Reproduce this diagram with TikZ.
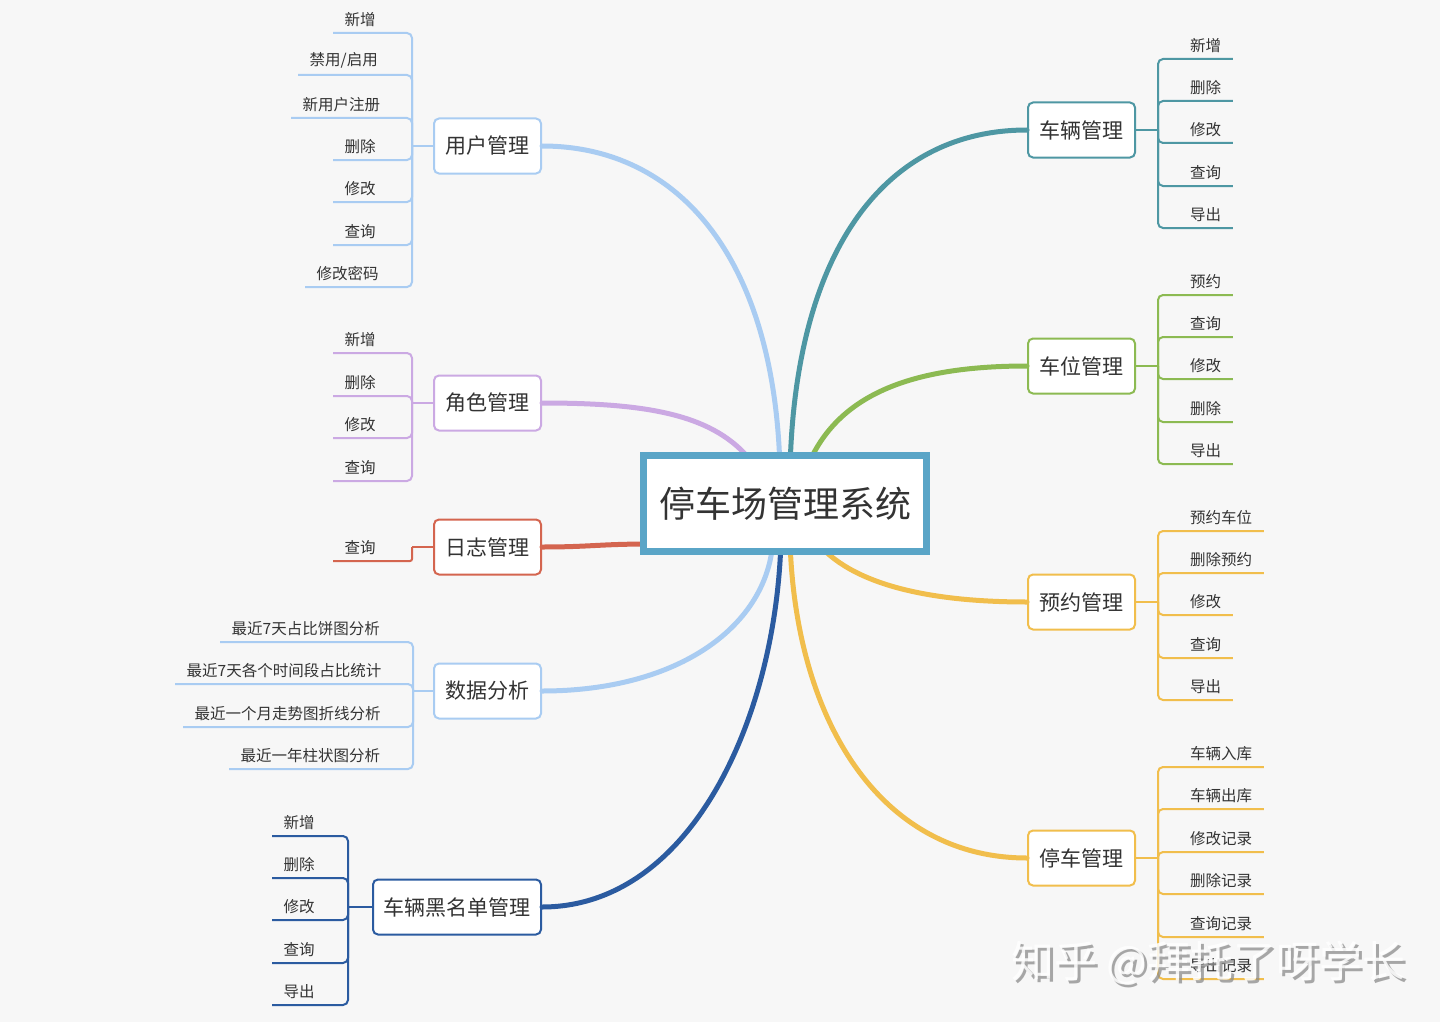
\documentclass[tikz,border=0pt]{standalone}
\usepackage{fontspec}
\newfontfamily\cjk{Noto Sans CJK SC}
\definecolor{bg}{HTML}{F7F7F7}
\definecolor{txt}{HTML}{333333}
\definecolor{cRoot}{HTML}{5AA5C7}
\definecolor{cLB}{HTML}{A9CCF2}
\definecolor{cPu}{HTML}{CBA9E3}
\definecolor{cRe}{HTML}{D4654F}
\definecolor{cDB}{HTML}{2B5BA0}
\definecolor{cTe}{HTML}{4E97A3}
\definecolor{cGr}{HTML}{8CBA52}
\definecolor{cYe}{HTML}{F1BE4C}
\tikzset{
  rootbox/.style={draw=cRoot, line width=7pt, fill=white, minimum width=283pt, minimum height=96pt, inner sep=0pt, font=\cjk\fontsize{36}{40}\selectfont, text=txt},
  topic/.style={draw=#1, line width=2pt, rounded corners=5pt, fill=white, minimum width=107pt, minimum height=55pt, inner sep=0pt, font=\cjk\fontsize{21}{24}\selectfont, text=txt},
  leaf/.style={inner xsep=11.5pt, inner ysep=6.25pt, font=\cjk\fontsize{15.5}{18}\selectfont, text=txt},
  lleaf/.style={leaf, anchor=south west},
  rleaf/.style={leaf, anchor=south west},
  branch/.style={draw=#1, line width=5pt, line cap=round},
  twig/.style={draw=#1, line width=2pt, rounded corners=5pt},
  wmark/.style={anchor=west, inner sep=0pt, font=\cjk\fontsize{43}{48}\selectfont},
}
\begin{document}
\begin{tikzpicture}[x=1pt,y=-1pt]
\fill[bg] (0,0) rectangle (1440,1022);
\useasboundingbox (0,0) rectangle (1440,1022);

% ---------- nodes ----------
\node[topic=cLB] (u) at (487.5,146) {用户管理};
\node[topic=cPu] (r) at (487.5,403) {角色管理};
\node[topic=cRe] (l) at (487.5,547) {日志管理};
\node[topic=cLB] (d) at (487.5,691) {数据分析};
\node[topic=cDB, minimum width=168pt] (b) at (457,907) {车辆黑名单管理};
\node[topic=cTe] (v) at (1081.5,130) {车辆管理};
\node[topic=cGr] (p) at (1081.5,366) {车位管理};
\node[topic=cYe] (y) at (1081.5,602) {预约管理};
\node[topic=cYe] (k) at (1081.5,858) {停车管理};

% ---------- main branches ----------
\coordinate (ru) at (780,470);
\coordinate (rr) at (752,462);
\coordinate (rl) at (650,544);
\coordinate (rd) at (773,540);
\coordinate (rb) at (781,540);
\coordinate (rv) at (790,470);
\coordinate (rp) at (806,470);
\coordinate (ry) at (815,540);
\coordinate (rk) at (790,540);
\draw[branch=cLB] (u.east) .. controls (680,146) and (775,260) .. (ru);
\draw[branch=cPu] (r.east) .. controls (650,403) and (715,415) .. (rr);
\draw[branch=cRe] (l.east) .. controls (590,547) and (600,544) .. (rl);
\draw[branch=cLB] (d.east) .. controls (680,691) and (768,625) .. (rd);
\draw[branch=cDB] (b.east) .. controls (690,907) and (776,720) .. (rb);
\draw[branch=cTe] (v.west) .. controls (885,130) and (795,250) .. (rv);
\draw[branch=cGr] (p.west) .. controls (910,366) and (835,395) .. (rp);
\draw[branch=cYe] (y.west) .. controls (930,602) and (850,585) .. (ry);
\draw[branch=cYe] (k.west) .. controls (880,858) and (795,720) .. (rk);

\node[rootbox] (root) at (785,503.5) {停车场管理系统};

% ---------- 用户管理 ----------
\coordinate (ub) at (412,146);
\draw[twig=cLB] (u.west) -- (ub);
\node[lleaf] (u1) at (333,33) {新增};
\node[lleaf] (u2) at (298,75) {禁用/启用};
\node[lleaf] (u3) at (291,118) {新用户注册};
\node[lleaf] (u4) at (333,160) {删除};
\node[lleaf] (u5) at (333,202) {修改};
\node[lleaf] (u6) at (333,245) {查询};
\node[lleaf] (u7) at (305,287) {修改密码};
\foreach \c in {u1,u2,u3,u4,u5,u6,u7} \draw[twig=cLB] (ub) |- (\c.south west);

% ---------- 角色管理 ----------
\coordinate (rbk) at (412,403);
\draw[twig=cPu] (r.west) -- (rbk);
\node[lleaf] (r1) at (333,353) {新增};
\node[lleaf] (r2) at (333,396) {删除};
\node[lleaf] (r3) at (333,438) {修改};
\node[lleaf] (r4) at (333,481) {查询};
\foreach \c in {r1,r2,r3,r4} \draw[twig=cPu] (rbk) |- (\c.south west);

% ---------- 日志管理 ----------
\coordinate (lbk) at (412,547);
\draw[twig=cRe] (l.west) -- (lbk);
\node[lleaf] (l1) at (333,561) {查询};
\draw[twig=cRe, rounded corners=2pt] (lbk) |- (l1.south west);

% ---------- 数据分析 ----------
\coordinate (dbk) at (413,691);
\draw[twig=cLB] (d.west) -- (dbk);
\node[lleaf] (d1) at (220,642) {最近7天占比饼图分析};
\node[lleaf] (d2) at (175,684) {最近7天各个时间段占比统计};
\node[lleaf] (d3) at (183,727) {最近一个月走势图折线分析};
\node[lleaf] (d4) at (229,769) {最近一年柱状图分析};
\foreach \c in {d1,d2,d3,d4} \draw[twig=cLB] (dbk) |- (\c.south west);

% ---------- 车辆黑名单管理 ----------
\coordinate (bbk) at (348,907);
\draw[twig=cDB] (b.west) -- (bbk);
\node[lleaf] (b1) at (272,836) {新增};
\node[lleaf] (b2) at (272,878) {删除};
\node[lleaf] (b3) at (272,920) {修改};
\node[lleaf] (b4) at (272,963) {查询};
\node[lleaf] (b5) at (272,1005) {导出};
\foreach \c in {b1,b2,b3,b4,b5} \draw[twig=cDB] (bbk) |- (\c.south west);

% ---------- 车辆管理 ----------
\coordinate (vbk) at (1158,130);
\draw[twig=cTe] (v.east) -- (vbk);
\node[rleaf] (v1) at (1178.5,59) {新增};
\node[rleaf] (v2) at (1178.5,101) {删除};
\node[rleaf] (v3) at (1178.5,143) {修改};
\node[rleaf] (v4) at (1178.5,186) {查询};
\node[rleaf] (v5) at (1178.5,228) {导出};
\foreach \c in {v1,v2,v3,v4,v5} \draw[twig=cTe] (vbk) |- (\c.south east);

% ---------- 车位管理 ----------
\coordinate (pbk) at (1158,366);
\draw[twig=cGr] (p.east) -- (pbk);
\node[rleaf] (p1) at (1178.5,295) {预约};
\node[rleaf] (p2) at (1178.5,337) {查询};
\node[rleaf] (p3) at (1178.5,379) {修改};
\node[rleaf] (p4) at (1178.5,422) {删除};
\node[rleaf] (p5) at (1178.5,464) {导出};
\foreach \c in {p1,p2,p3,p4,p5} \draw[twig=cGr] (pbk) |- (\c.south east);

% ---------- 预约管理 ----------
\coordinate (ybk) at (1158,602);
\draw[twig=cYe] (y.east) -- (ybk);
\node[rleaf] (y1) at (1178.5,531) {预约车位};
\node[rleaf] (y2) at (1178.5,573) {删除预约};
\node[rleaf] (y3) at (1178.5,615) {修改};
\node[rleaf] (y4) at (1178.5,658) {查询};
\node[rleaf] (y5) at (1178.5,700) {导出};
\foreach \c in {y1,y2,y3,y4,y5} \draw[twig=cYe] (ybk) |- (\c.south east);

% ---------- 停车管理 ----------
\coordinate (kbk) at (1158,858);
\draw[twig=cYe] (k.east) -- (kbk);
\node[rleaf] (k1) at (1178.5,767) {车辆入库};
\node[rleaf] (k2) at (1178.5,809) {车辆出库};
\node[rleaf] (k3) at (1178.5,852) {修改记录};
\node[rleaf] (k4) at (1178.5,894) {删除记录};
\node[rleaf] (k5) at (1178.5,937) {查询记录};
\node[rleaf] (k6) at (1178.5,979) {导出记录};
\foreach \c in {k1,k2,k3,k4,k5,k6} \draw[twig=cYe] (kbk) |- (\c.south east);

% ---------- watermark ----------
\node[wmark, text=black!45, opacity=0.75] (wms) at (1014,966) {知乎 @拜托了呀学长};
\node[wmark, text=white, opacity=0.85] (wm) at (1011,963) {知乎 @拜托了呀学长};
\end{tikzpicture}
\end{document}
